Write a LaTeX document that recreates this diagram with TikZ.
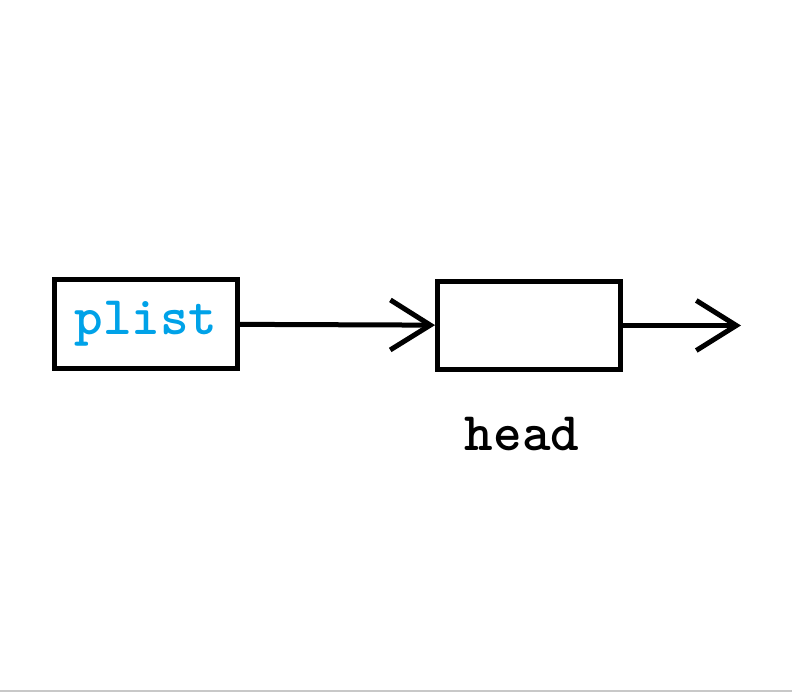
\documentclass[tikz,border=0pt]{standalone}
\usetikzlibrary{arrows.meta, positioning}
\definecolor{plistblue}{HTML}{00A2E8}
\definecolor{edgegray}{HTML}{C8C8C8}

\begin{document}
\begin{tikzpicture}[
    x=0.02cm, y=-0.02cm,
    every node/.style={font=\fontsize{31}{34}\selectfont\ttfamily\bfseries},
    fr/.style={rectangle, draw, line width=5*0.02cm, minimum width=3.66cm,
               minimum height=1.78cm, inner sep=0pt},
    arr/.style={-{Straight Barb[length=0.8cm, width=1.0cm]}, line width=5*0.02cm}
]
    \useasboundingbox (0,0) rectangle (792,692);
    \draw[edgegray, line width=2*0.02cm] (0,691) -- (792,691);
    \node[fr, text=plistblue] (plist) at (146,324) {plist};
    \node[fr] (head) at (529,325.5) {};
    \coordinate (next) at (741,325.5);
    \node (headlbl) at (522,434) {head};
    \draw[arr] (plist) -- (head);
    \draw[arr] (head) -- (next);
\end{tikzpicture}
\end{document}
